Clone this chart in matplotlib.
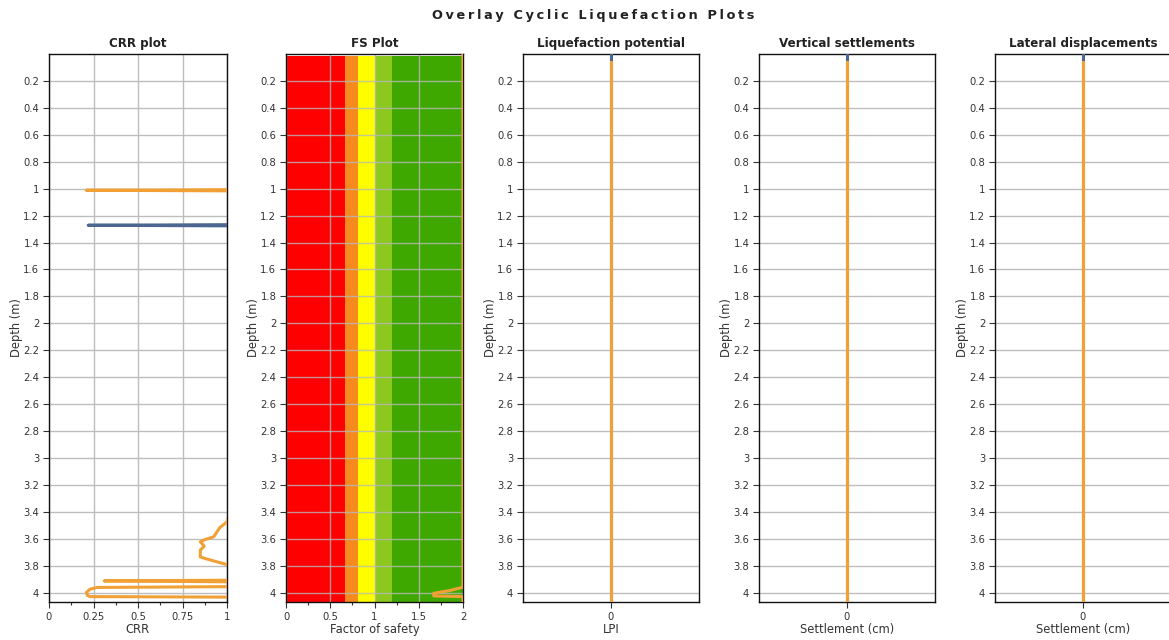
import matplotlib
matplotlib.use("Agg")
import matplotlib.pyplot as plt
from matplotlib.ticker import MultipleLocator, FixedLocator, FuncFormatter

# ---- data ----
depth_ticks = [0.2, 0.4, 0.6, 0.8, 1.0, 1.2, 1.4, 1.6, 1.8, 2.0, 2.2, 2.4, 2.6,
               2.8, 3.0, 3.2, 3.4, 3.6, 3.8, 4.0]
max_depth = 4.07

# CRR profile (values above 1 lie beyond the plotted range)
crr_depth = [0.0, 1.005, 1.012, 1.019, 3.475, 3.517, 3.586, 3.606, 3.623, 3.655,
             3.685, 3.735, 3.747, 3.772, 3.792, 3.905, 3.913, 3.925, 3.952,
             3.962, 3.975, 4.0, 4.02, 4.03, 4.036, 4.07]
crr_value = [1.5, 1.5, 0.21, 1.5, 1.0, 0.96, 0.925, 0.877, 0.85, 0.872,
             0.85, 0.85, 0.877, 0.944, 1.0, 1.5, 0.31, 1.5, 1.5,
             0.27, 0.23, 0.21, 0.215, 0.23, 1.5, 1.5]

# CSR profile
csr_depth = [0.0, 1.265, 1.272, 1.279, 4.07]
csr_value = [1.5, 1.5, 0.22, 1.5, 1.5]

# Factor of safety profile (capped at 2)
fs_depth = [0.0, 3.96, 3.985, 4.005, 4.025, 4.03, 4.07]
fs_value = [2.0, 2.0, 1.85, 1.67, 1.67, 2.0, 2.0]

# Factor of safety colour bands
fs_bands = [0.0, 0.67, 0.81, 1.0, 1.2, 2.0]
fs_band_colors = ["#fe0000", "#f58a1f", "#fefe00", "#8cc81e", "#3ea800"]

# LPI and settlement profiles
zero_depth = [0.0, max_depth]
zero_value = [0.0, 0.0]
lpi_start = 0.06

titles = ["CRR plot", "FS Plot", "Liquefaction potential",
          "Vertical settlements", "Lateral displacements"]
xlabels = ["CRR", "Factor of safety", "LPI", "Settlement (cm)", "Settlement (cm)"]
main_title = "Overlay Cyclic Liquefaction Plots"

ORANGE = "#f0a035"
BLUE = "#4d6690"
GRID = "#bdbdbd"
TXT = "#333333"

plt.rcParams["font.family"] = ["DejaVu Sans"]

fig = plt.figure(figsize=(11.69, 6.40), dpi=100)
W, H = 1169.0, 640.0
lefts = [49, 286, 523, 759, 995]
widths = [178, 177, 176, 176, 176]
top_px, bot_px = 54, 602

axes = []
for i in range(5):
    ax = fig.add_axes([lefts[i] / W, 1 - bot_px / H, widths[i] / W,
                       (bot_px - top_px) / H])
    axes.append(ax)
    ax.set_ylim(max_depth, 0)
    ax.yaxis.set_major_locator(FixedLocator(depth_ticks))
    ax.yaxis.set_major_formatter(FuncFormatter(lambda v, p: f"{v:g}"))
    ax.grid(axis="y", color=GRID, linewidth=1.0)
    ax.tick_params(axis="both", direction="out", length=4, width=0.8,
                   colors=TXT, labelsize=7.2, pad=3)
    ax.tick_params(axis="both", which="minor", direction="out", length=2.5,
                   width=0.8, colors=TXT)
    for s in ax.spines.values():
        s.set_color("#111111")
        s.set_linewidth(1.0)
    ax.set_title(titles[i], fontsize=8.6, fontweight="bold", color="#222222",
                 pad=5)
    ax.set_xlabel(xlabels[i], fontsize=8.3, color=TXT, labelpad=1)
    ax.set_ylabel("Depth (m)", fontsize=8.3, color=TXT, labelpad=0)

# CRR plot
ax = axes[0]
ax.set_xlim(0, 1)
ax.xaxis.set_major_locator(MultipleLocator(0.25))
ax.xaxis.set_minor_locator(MultipleLocator(0.125))
ax.xaxis.set_major_formatter(FuncFormatter(lambda v, p: f"{v:g}"))
ax.grid(axis="x", color=GRID, linewidth=1.0)
ax.plot(csr_value, csr_depth, color=BLUE, linewidth=2.2, zorder=3)
ax.plot(crr_value, crr_depth, color=ORANGE, linewidth=2.2, zorder=4)

# FS plot
ax = axes[1]
ax.set_xlim(0, 2)
ax.xaxis.set_major_locator(MultipleLocator(0.5))
ax.xaxis.set_minor_locator(MultipleLocator(0.25))
ax.xaxis.set_major_formatter(FuncFormatter(lambda v, p: f"{v:g}"))
for k in range(len(fs_band_colors)):
    ax.fill_betweenx([0.015, max_depth], fs_bands[k], fs_bands[k + 1],
                     color=fs_band_colors[k], linewidth=0, zorder=1)
ax.grid(axis="x", color="#b8b8b8", linewidth=1.0, alpha=0.8)
ax.grid(axis="y", color="#b8b8b8", linewidth=1.0, alpha=0.8)
ax.plot(fs_value, fs_depth, color=ORANGE, linewidth=2.2, zorder=4)

# LPI and settlement plots
for ax in axes[2:]:
    ax.set_xlim(-1, 1)
    ax.xaxis.set_major_locator(FixedLocator([0]))
    ax.plot(zero_value, zero_depth, color=BLUE, linewidth=2.2, zorder=3)
    ax.plot(zero_value, [lpi_start, max_depth], color=ORANGE,
            linewidth=2.2, zorder=4)

# letter-spaced figure title
spaced = "\u2009".join(main_title).replace("\u2009 \u2009", "\u2009 \u2009")
fig.text(593 / W, 1 - 16 / H, spaced,
         ha="center", va="center", fontsize=9.3, fontweight="bold",
         color="#222222")

fig.savefig("out.png", dpi=100, facecolor="white")
